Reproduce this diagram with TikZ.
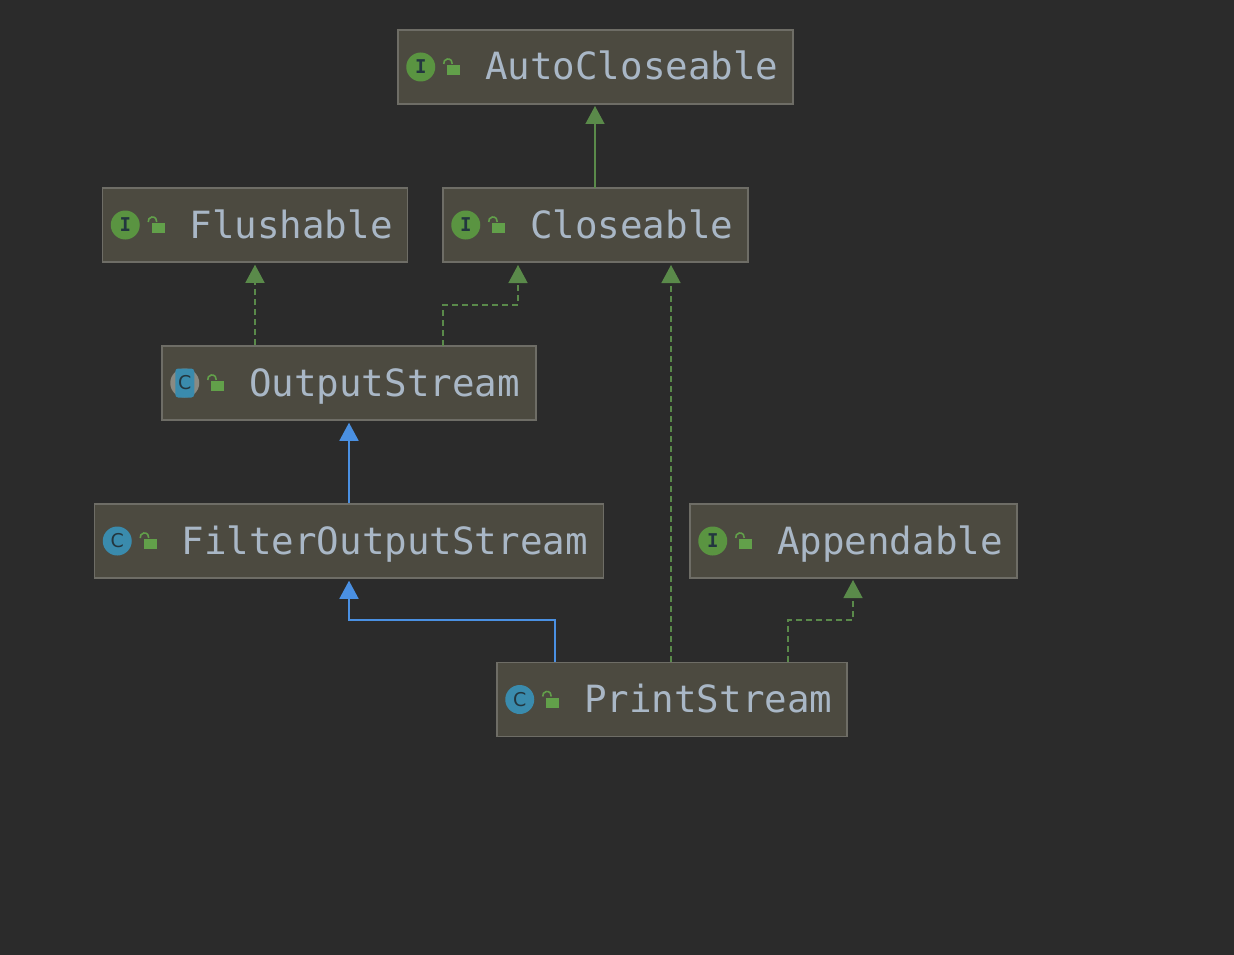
\documentclass[tikz,border=0pt]{standalone}
\usepackage{fontspec}
\setmonofont{DejaVu Sans Mono}
\setsansfont{DejaVu Sans}
\usetikzlibrary{arrows.meta}
\definecolor{bgdark}{HTML}{2B2B2B}
\definecolor{boxfill}{HTML}{4C4A40}
\definecolor{boxline}{HTML}{6E6D66}
\definecolor{nametext}{HTML}{A9B7C6}
\definecolor{implgreen}{HTML}{5A8A4A}
\definecolor{extblue}{HTML}{4A90E2}
\definecolor{icongreen}{HTML}{5A9441}
\definecolor{iconblue}{HTML}{3A8BAD}
\definecolor{icongrey}{HTML}{8A8A82}
\definecolor{lockgreen}{HTML}{62A04A}
\definecolor{letterdark}{HTML}{23363F}
\tikzset{
  classbox/.style={draw=boxline, line width=1.5pt, fill=boxfill, text=nametext,
    font=\fontsize{37.5}{40}\selectfont\ttfamily, minimum height=74pt, inner sep=0pt,
    align=left, text height=26pt, text depth=0pt,
    execute at begin node=\hspace*{87pt}},
  iconletter/.style={circle, minimum size=29pt, inner sep=0pt, text=letterdark,
    font=\fontsize{19}{19}\selectfont\ttfamily\bfseries},
  iconclass/.style={iconletter, font=\fontsize{19}{19}\selectfont\sffamily},
  extline/.style={draw=extblue, line width=1.5pt, -{Triangle[length=18pt,width=19pt,fill=extblue]}, shorten >=2pt},
  implline/.style={draw=implgreen, line width=1.3pt, -{Triangle[length=18pt,width=19pt,fill=implgreen]}, shorten >=2pt},
  dashline/.style={implline, dash pattern=on 6pt off 4pt},
  lockbody/.style={fill=lockgreen, draw=none},
  lockhook/.style={draw=lockgreen, line width=1.6pt, fill=none}
}
\newcommand{\lockat}[1]{%
  \fill[lockbody] ([shift={(50pt,2pt)}]#1.west) rectangle ++(13pt,-10pt);
  \draw[lockhook] ([shift={(46.5pt,3pt)}]#1.west) arc[start angle=190,end angle=-10,radius=4.3pt];
}
\begin{document}
\begin{tikzpicture}[x=1pt,y=-1pt]
  \useasboundingbox (0,0) rectangle (1234,955);
  \fill[bgdark] (0,0) rectangle (1234,955);
  % class boxes
  \node[classbox, text width=395pt] (autocloseable) at (595.5,67) {AutoCloseable};
  \node[classbox, text width=305pt] (flushable) at (255,225) {Flushable};
  \node[classbox, text width=305pt] (closeable) at (595.5,225) {Closeable};
  \node[classbox, text width=374pt] (outputstream) at (349,383) {OutputStream};
  \node[classbox, text width=509pt] (filteroutput) at (349,541) {FilterOutputStream};
  \node[classbox, text width=327pt] (appendable) at (853.5,541) {Appendable};
  \node[classbox, text width=350pt] (printstream) at (672,699.5) {PrintStream};
  % icons
  \foreach \boxname/\iconname in {autocloseable/iconauto,flushable/iconflush,closeable/iconclose,appendable/iconappend}{
    \node[iconletter, fill=icongreen] (\iconname) at ([xshift=23.5pt]\boxname.west) {I};
    \lockat{\boxname}
  }
  \foreach \boxname/\iconname in {filteroutput/iconfilter,printstream/iconprint}{
    \node[iconclass, fill=iconblue] (\iconname) at ([xshift=23.5pt]\boxname.west) {C};
    \lockat{\boxname}
  }
  \node[iconletter, fill=icongrey] (iconoutput) at ([xshift=23.5pt]outputstream.west) {};
  \node[iconclass, rectangle, fill=iconblue, rounded corners=3pt, minimum width=19pt, minimum height=29pt] (iconoutputc) at (iconoutput) {C};
  \lockat{outputstream}
  % connectors
  \coordinate (osleft) at (443,346);
  \coordinate (cltip) at (518,263);
  \coordinate (pscl) at (671,662);
  \coordinate (cltipb) at (671,263);
  \coordinate (psapp) at (788,662);
  \coordinate (psfil) at (555,662);
  \coordinate (clmid) at (595,188);
  \coordinate (actip) at (595,104);
  \coordinate (aptip) at (853,578);
  \draw[implline] (clmid) -- (actip);
  \draw[dashline] (outputstream.north -| flushable.south) -- (flushable.south);
  \draw[dashline] (osleft) -- (osleft |- 0,305) -- (cltip |- 0,305) -- (cltip);
  \draw[dashline] (pscl) -- (cltipb);
  \draw[dashline] (psapp) -- (psapp |- 0,620) -- (aptip |- 0,620) -- (aptip);
  \draw[extline] (filteroutput.north -| outputstream.south) -- (outputstream.south);
  \draw[extline] (psfil) -- (psfil |- 0,620) -- (filteroutput.south |- 0,620) -- (filteroutput.south);
\end{tikzpicture}
\end{document}
